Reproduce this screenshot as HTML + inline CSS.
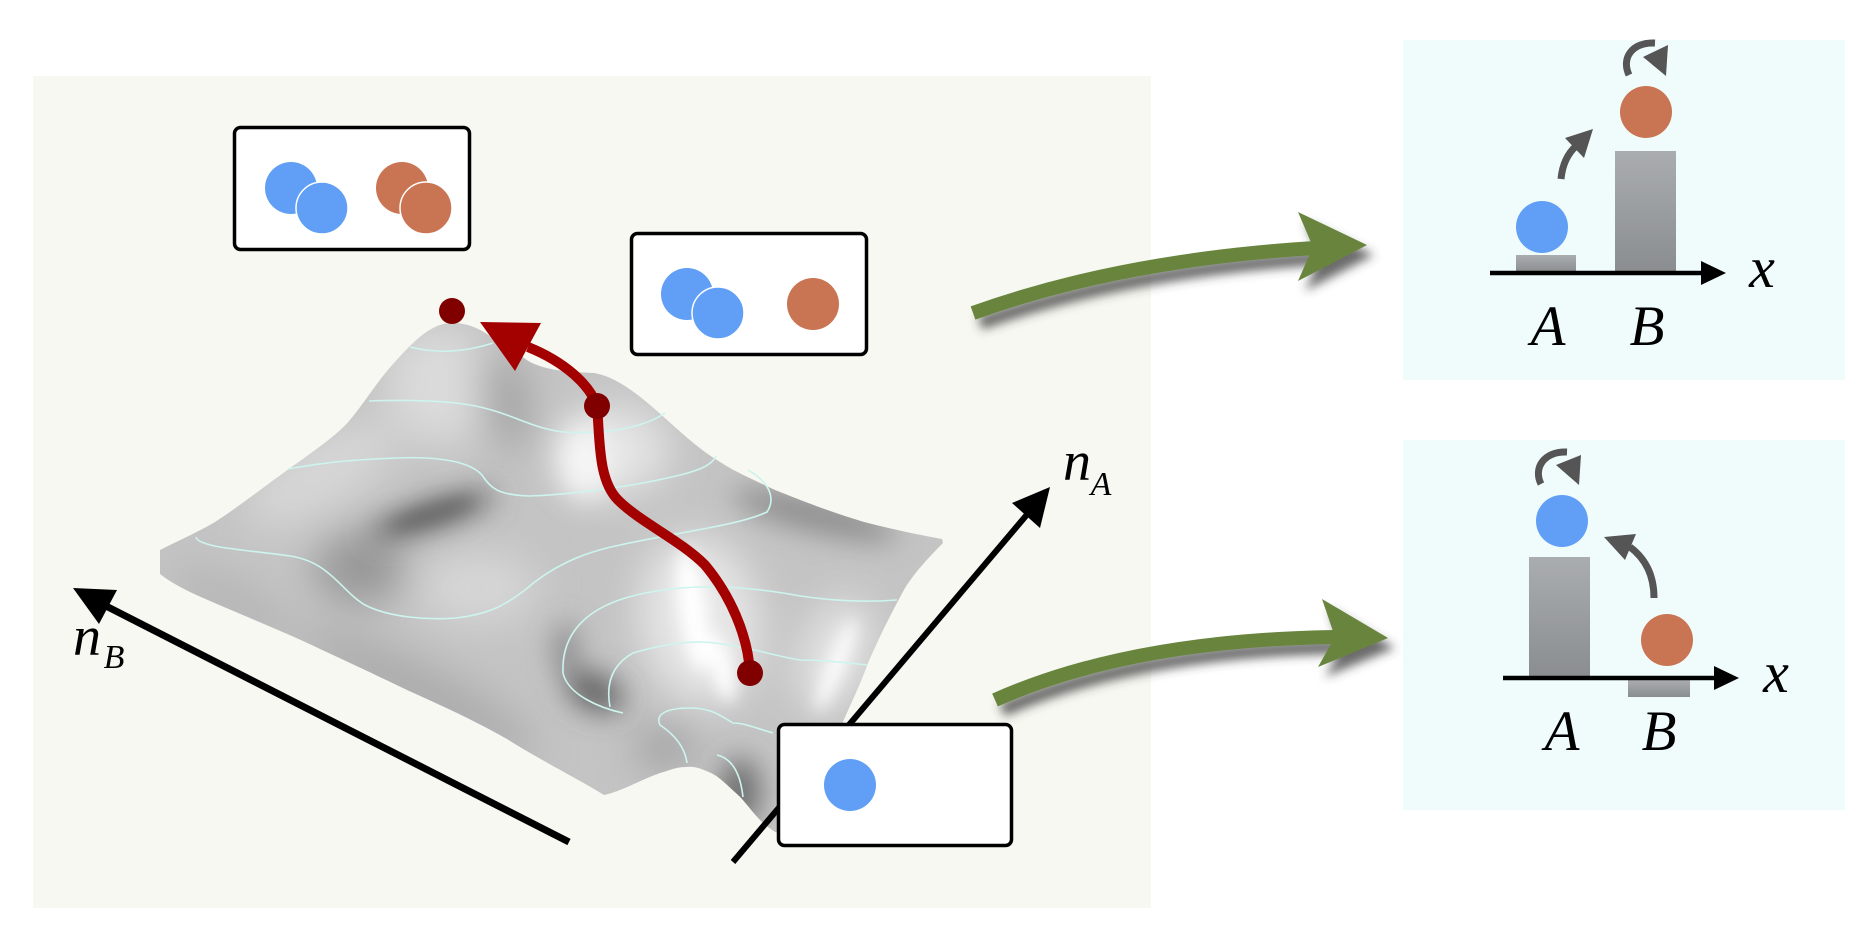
<!DOCTYPE html>
<html>
<head>
<meta charset="utf-8">
<style>
html,body{margin:0;padding:0;background:#ffffff;}
svg{display:block;}
text{font-family:"Liberation Serif",serif;font-style:italic;fill:#000;}
</style>
</head>
<body>
<svg width="1869" height="937" viewBox="0 0 1869 937" xmlns="http://www.w3.org/2000/svg">
<defs>
  <clipPath id="surf">
    <path d="M160,550 C180,540 200,531 215,522 C240,506 270,482 303,459 C325,443 340,432 350,420 C365,402 378,380 395,362 C410,345 425,330 440,325 C452,321 468,323 482,331 C500,342 515,352 530,362 C550,372 575,372 594,373 C612,376 630,388 650,405 C668,420 695,447 717,460 C735,472 750,478 775,490 C800,500 830,512 864,522 C895,530 920,535 942,539 L943,543 C930,556 915,572 905,588 C893,610 880,635 868,663 C858,690 850,705 843,722 C835,760 825,800 790,835 L775,832 C770,828 766,826 762,822 C752,812 744,800 737,794 C726,784 718,776 711,773 C700,768 694,766 686,767 C675,767 668,771 660,773 C640,780 620,792 604,795 C580,780 540,760 507,739 C470,718 440,705 405,689 C370,672 335,656 303,641 C270,626 235,612 201,597 C185,590 170,582 160,574 Z"/>
  </clipPath>
  <filter id="blurA" x="-30%" y="-30%" width="160%" height="160%"><feGaussianBlur stdDeviation="20"/></filter>
  <filter id="blurB" x="-50%" y="-50%" width="200%" height="200%"><feGaussianBlur stdDeviation="14"/></filter>
  <filter id="blurC" x="-50%" y="-50%" width="200%" height="200%"><feGaussianBlur stdDeviation="8"/></filter>
  <filter id="shadow" x="-20%" y="-50%" width="140%" height="200%">
    <feDropShadow dx="7" dy="10" stdDeviation="5" flood-color="#3a3a3a" flood-opacity="0.75"/>
  </filter>
  <linearGradient id="bar" x1="0" y1="0" x2="0" y2="1">
    <stop offset="0" stop-color="#aaadaf"/>
    <stop offset="1" stop-color="#8a8d90"/>
  </linearGradient>
</defs>

<!-- panels -->
<rect x="33" y="76" width="1118" height="832" fill="#f7f8f1"/>
<rect x="1403" y="40" width="442" height="340" fill="#f0fcfc"/>
<rect x="1403" y="440" width="442" height="370" fill="#f0fcfc"/>

<!-- surface -->
<g clip-path="url(#surf)">
  <rect x="150" y="300" width="820" height="560" fill="#c4c4c4"/>
  <g filter="url(#blurA)">
    <ellipse cx="440" cy="385" rx="55" ry="60" fill="#dadada"/>
    <ellipse cx="320" cy="475" rx="85" ry="35" fill="#d6d6d6" transform="rotate(-30 320 475)"/>
    <ellipse cx="360" cy="568" rx="45" ry="35" fill="#969696"/>
    <ellipse cx="478" cy="588" rx="60" ry="35" fill="#d6d6d6"/>
    <ellipse cx="615" cy="450" rx="55" ry="45" fill="#e4e4e4"/>
    <ellipse cx="700" cy="620" rx="60" ry="85" fill="#e6e6e6" transform="rotate(-10 700 620)"/>
    <ellipse cx="835" cy="655" rx="35" ry="60" fill="#e2e2e2" transform="rotate(20 835 655)"/>
    <ellipse cx="420" cy="692" rx="130" ry="28" fill="#acacac" transform="rotate(27 420 692)"/>
    <ellipse cx="235" cy="605" rx="70" ry="20" fill="#b4b4b4" transform="rotate(28 235 605)"/>
    <ellipse cx="665" cy="748" rx="30" ry="22" fill="#a0a0a0"/>
    <ellipse cx="505" cy="400" rx="22" ry="50" fill="#a0a0a0" transform="rotate(-10 505 400)"/>
  </g>
  <g filter="url(#blurB)">
    <ellipse cx="815" cy="515" rx="85" ry="16" fill="#8a8a8a" transform="rotate(14 815 515)"/>
    <ellipse cx="585" cy="462" rx="26" ry="38" fill="#f6f6f6"/>
    <ellipse cx="595" cy="692" rx="30" ry="18" fill="#5e5e5e" transform="rotate(25 595 692)"/>
    <ellipse cx="740" cy="792" rx="20" ry="34" fill="#6a6a6a"/>
    <ellipse cx="566" cy="650" rx="10" ry="28" fill="#7c7c7c"/>
    <ellipse cx="432" cy="515" rx="68" ry="14" fill="#6a6a6a" transform="rotate(-18 432 515)"/>
  </g>
  <g filter="url(#blurC)">
    <ellipse cx="432" cy="514" rx="45" ry="7" fill="#666666" transform="rotate(-18 432 514)"/>
    <ellipse cx="693" cy="610" rx="14" ry="62" fill="#ffffff" transform="rotate(-8 693 610)"/>
    <ellipse cx="722" cy="668" rx="10" ry="35" fill="#ffffff" transform="rotate(-14 722 668)"/>
    <ellipse cx="836" cy="665" rx="8" ry="50" fill="#ffffff" transform="rotate(22 836 665)"/>
  </g>
</g>

<!-- contour lines -->
<g fill="none" stroke="#cdf4ee" stroke-width="1.6">
  <path d="M410,347 Q450,357 493,343"/>
  <path d="M369,401 C400,400 440,400 470,405 C510,412 530,428 563,432 C600,434 640,430 665,413"/>
  <path d="M288,469 C310,465 340,460 397,458 C440,456 470,462 482,475 C492,490 500,495 530,496 C580,494 640,485 680,475 C700,470 712,465 716,456"/>
  <path d="M196,537 C198,548 250,550 290,556 C330,562 340,590 365,605 C390,618 430,620 456,618 C490,614 505,605 525,590 C550,568 580,553 620,545 C680,532 740,525 767,512 C775,500 772,484 748,470"/>
  <path d="M897,600 C860,603 820,600 783,593 C750,588 717,585 680,588 C640,592 610,600 590,615 C570,630 562,650 563,673 C568,695 600,708 623,713"/>
  <path d="M867,665 C840,662 820,660 800,660 C770,655 750,647 715,643 C690,640 660,645 633,653 C615,663 605,680 610,707"/>
  <path d="M773,733 C755,728 745,723 733,723 C720,715 710,708 690,708 C665,708 655,715 660,725 C675,735 685,748 687,763"/>
  <path d="M717,755 C730,758 740,770 743,797"/>
</g>

<!-- nB axis -->
<line x1="569" y1="842" x2="104" y2="605" stroke="#000" stroke-width="7"/>
<polygon points="73,588 117,590 99,624" fill="#000"/>
<text x="87" y="655" font-size="56" text-anchor="middle">n</text>
<text x="114" y="668" font-size="34" text-anchor="middle">B</text>

<!-- nA axis -->
<line x1="733" y1="862" x2="1030" y2="511" stroke="#000" stroke-width="6"/>
<polygon points="1050,487 1012,503 1040,528" fill="#000"/>
<text x="1077" y="480" font-size="56" text-anchor="middle">n</text>
<text x="1101" y="495" font-size="34" text-anchor="middle">A</text>

<!-- red path -->
<g fill="none" stroke="#a30000" stroke-width="10">
  <path d="M597,406 C590,385 565,362 528,347"/>
  <path d="M597,406 C600,440 598,480 618,500 C640,522 680,540 705,565 C730,595 748,635 750,673"/>
</g>
<polygon points="480,322 541,323 515,371" fill="#a30000"/>
<circle cx="452" cy="311" r="13" fill="#800000"/>
<circle cx="597" cy="406" r="13" fill="#800000"/>
<circle cx="750" cy="673" r="13" fill="#800000"/>

<!-- boxes -->
<rect x="234.5" y="127.5" width="235" height="122" rx="6" fill="#fff" stroke="#000" stroke-width="3.5"/>
<circle cx="291" cy="188" r="26" fill="#609ff5"/>
<circle cx="322" cy="208" r="26" fill="#609ff5" stroke="#fff" stroke-width="1.5"/>
<circle cx="402" cy="188" r="26" fill="#c97553"/>
<circle cx="426" cy="208" r="26" fill="#c97553" stroke="#fff" stroke-width="1.5"/>

<rect x="631.5" y="233.5" width="235" height="121" rx="6" fill="#fff" stroke="#000" stroke-width="3.5"/>
<circle cx="687" cy="294" r="26" fill="#609ff5"/>
<circle cx="718" cy="313" r="26" fill="#609ff5" stroke="#fff" stroke-width="1.5"/>
<circle cx="813" cy="304" r="26" fill="#c97553"/>

<rect x="778.5" y="724.5" width="233" height="121" rx="6" fill="#fff" stroke="#000" stroke-width="3.5"/>
<circle cx="850" cy="785" r="26" fill="#609ff5"/>

<!-- green arrows -->
<g filter="url(#shadow)">
  <path d="M973,313 Q1120,260 1315,248" fill="none" stroke="#67843d" stroke-width="14"/>
  <polygon points="1298,212 1367,245 1298,281 1313,247" fill="#67843d"/>
</g>
<g filter="url(#shadow)">
  <path d="M995,700 Q1130,640 1335,637" fill="none" stroke="#67843d" stroke-width="14"/>
  <polygon points="1322,599 1388,638 1318,667 1335,637" fill="#67843d"/>
</g>

<!-- top right panel -->
<rect x="1516" y="255" width="60" height="18" fill="url(#bar)"/>
<rect x="1615" y="151" width="61" height="122" fill="url(#bar)"/>
<line x1="1490" y1="273" x2="1705" y2="273" stroke="#000" stroke-width="4.5"/>
<polygon points="1726,273 1701,261 1701,285" fill="#000"/>
<circle cx="1542" cy="227" r="26" fill="#609ff5"/>
<circle cx="1646" cy="112" r="26" fill="#c97553"/>
<path d="M1561,179 Q1563,158 1576,146" fill="none" stroke="#555" stroke-width="7"/>
<polygon points="1565,138 1593,129 1584,158" fill="#555"/>
<path d="M1629,75 C1621,58 1632,42 1655,43" fill="none" stroke="#555" stroke-width="7"/>
<polygon points="1643,57 1668,45 1666,76" fill="#555"/>
<text x="1548" y="345" font-size="57" text-anchor="middle">A</text>
<text x="1647" y="345" font-size="57" text-anchor="middle">B</text>
<text x="1762" y="287" font-size="58" text-anchor="middle">x</text>

<!-- bottom right panel -->
<rect x="1529" y="557" width="61" height="121" fill="url(#bar)"/>
<rect x="1628" y="680" width="62" height="17" fill="url(#bar)"/>
<line x1="1503" y1="678" x2="1716" y2="678" stroke="#000" stroke-width="4.5"/>
<polygon points="1739,678 1714,666 1714,690" fill="#000"/>
<circle cx="1562" cy="521" r="26" fill="#609ff5"/>
<circle cx="1667" cy="640" r="26" fill="#c97553"/>
<path d="M1654,598 Q1654,565 1630,547" fill="none" stroke="#555" stroke-width="7"/>
<polygon points="1604,537 1636,534 1625,560" fill="#555"/>
<path d="M1541,484 C1533,468 1544,451 1567,452" fill="none" stroke="#555" stroke-width="7"/>
<polygon points="1556,465 1581,455 1579,485" fill="#555"/>
<text x="1562" y="750" font-size="57" text-anchor="middle">A</text>
<text x="1659" y="750" font-size="57" text-anchor="middle">B</text>
<text x="1776" y="692" font-size="58" text-anchor="middle">x</text>
</svg>
</body>
</html>
